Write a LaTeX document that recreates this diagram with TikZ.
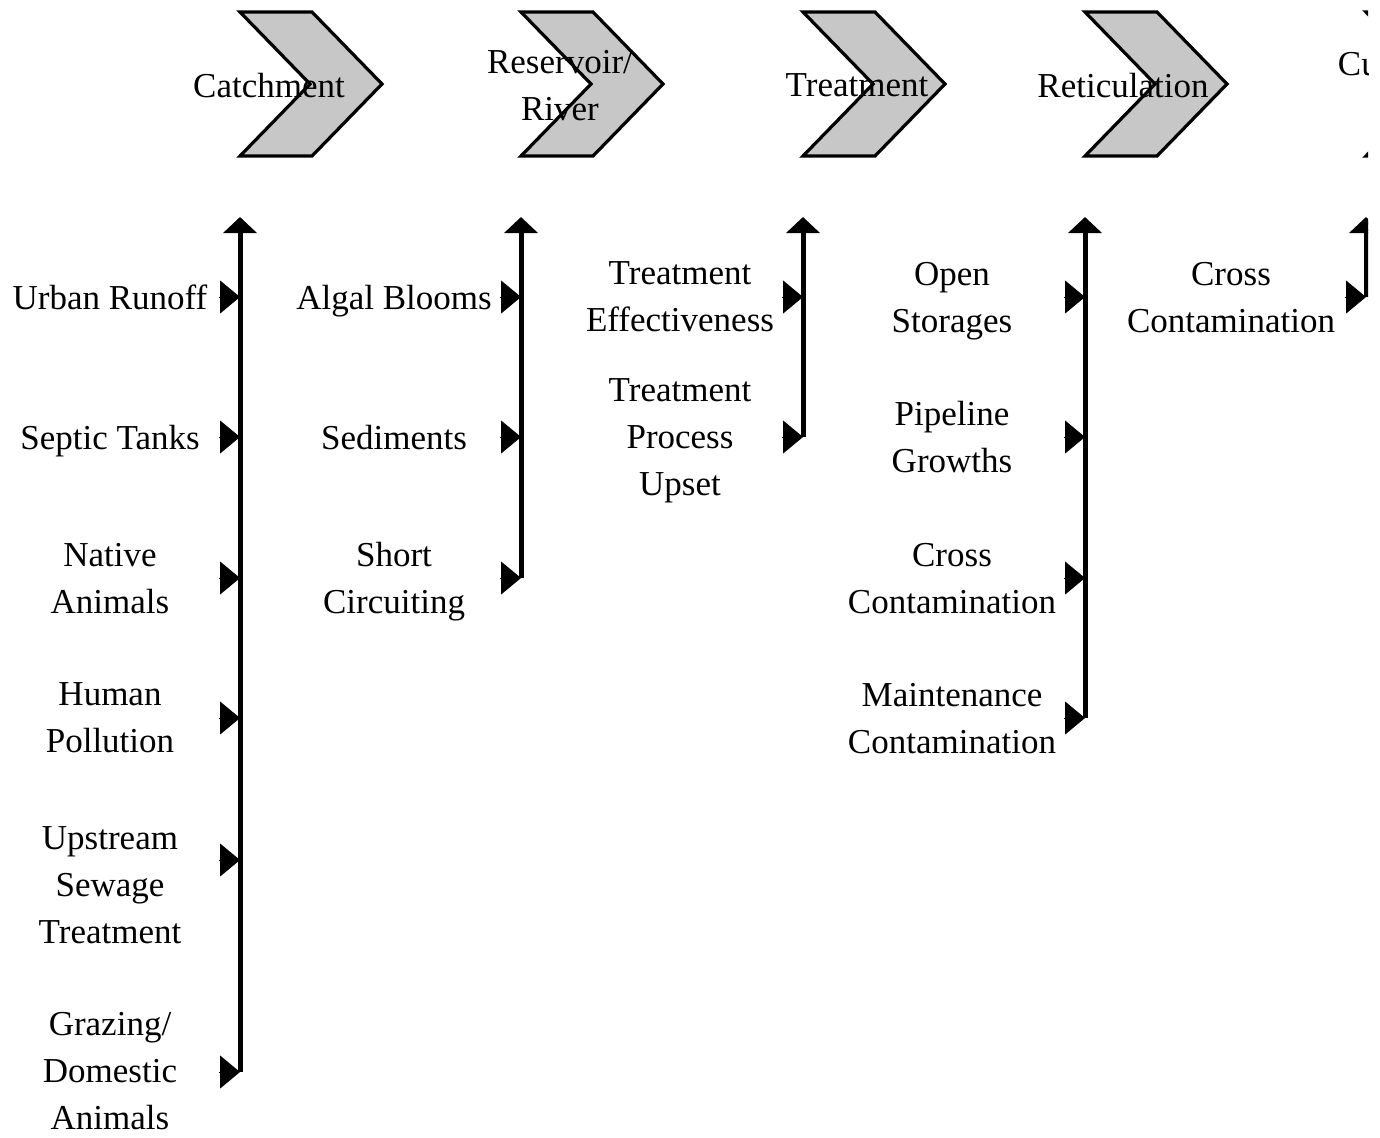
\documentclass[tikz,border=0pt]{standalone}
\usepackage{fontspec}
\setmainfont{Liberation Serif}
\usetikzlibrary{arrows.meta,positioning,calc}

\tikzset{
  stage/.style={draw=black,line width=1.6pt,line join=miter,fill=black!22},
  stagelabel/.style={font=\fontsize{17.5}{23.5}\selectfont,align=center,inner sep=0pt,text depth=0pt},
  cause/.style={font=\fontsize{17.5}{23.5}\selectfont,align=center,inner sep=0pt,text depth=0pt},
  spine/.style={line width=2.5pt,-{Triangle[length=8pt,width=16.5pt]}},
  feed/.style={-{Triangle[length=10pt,width=16.5pt]}}
}

\begin{document}
\begin{tikzpicture}[x=0.5pt,y=-0.5pt]
  \useasboundingbox (0,0) rectangle (1380,1137);
  \clip (0,0) rectangle (1368,1137);

  % stages along the supply chain
  \foreach \l in {240,521,803,1085,1366}
    \draw[stage] (\l,12) -- ++(72,0) -- ++(70,72) -- ++(-70,72) -- ++(-72,0) -- ++(70,-72) -- cycle;
  \node[stagelabel] (catchment) at (269,85) {Catchment};
  \node[stagelabel] (reservoir) at (560,85) {Reservoir/\\River};
  \node[stagelabel] (treatment) at (857,85) {Treatment};
  \node[stagelabel] (reticulation) at (1123,85) {Reticulation};
  \node[stagelabel] (customer) at (1406,64) {Customer};

  % hazards
  \node[cause] (urban) at (110,297) {Urban Runoff};
  \node[cause] (septic) at (110,437) {Septic Tanks};
  \node[cause] (native) at (110,578) {Native\\Animals};
  \node[cause] (human) at (110,718) {Human\\Pollution};
  \node[cause] (upstream) at (110,885) {Upstream\\Sewage\\Treatment};
  \node[cause] (grazing) at (110,1071) {Grazing/\\Domestic\\Animals};

  \node[cause] (algal) at (394,297) {Algal Blooms};
  \node[cause] (sediments) at (394,437) {Sediments};
  \node[cause] (short) at (394,578) {Short\\Circuiting};

  \node[cause] (effect) at (680,297) {Treatment\\Effectiveness};
  \node[cause] (upset) at (680,437) {Treatment\\Process\\Upset};

  \node[cause] (storages) at (952,297) {Open\\Storages};
  \node[cause] (pipeline) at (952,437) {Pipeline\\Growths};
  \node[cause] (crossret) at (952,578) {Cross\\Contamination};
  \node[cause] (maint) at (952,718) {Maintenance\\Contamination};

  \node[cause] (crosscust) at (1231,297) {Cross\\Contamination};

  % spines up to each stage
  \coordinate (top1) at (240,217);
  \coordinate (top2) at (521,217);
  \coordinate (top3) at (803,217);
  \coordinate (top4) at (1085,217);
  \coordinate (top5) at (1366,217);

  \foreach \y [count=\i] in {297,437,578,718,860,1072}
    \coordinate (a\i) at (240,\y);
  \foreach \y [count=\i] in {297,437,578}
    \coordinate (b\i) at (521,\y);
  \foreach \y [count=\i] in {297,437}
    \coordinate (c\i) at (803,\y);
  \foreach \y [count=\i] in {297,437,578,718}
    \coordinate (d\i) at (1085,\y);
  \coordinate (e1) at (1366,297);

  \draw[spine] (a6) -- (top1);
  \draw[spine] (b3) -- (top2);
  \draw[spine] (c2) -- (top3);
  \draw[spine] (d4) -- (top4);
  \draw[spine] (e1) -- (top5);

  % hazard feeds
  \foreach \j in {a1,a2,a3,a4,a5,a6,b1,b2,b3,c1,c2,d1,d2,d3,d4,e1}
    \draw[feed] (\j) ++(-21,0) -- (\j);
\end{tikzpicture}
\end{document}
